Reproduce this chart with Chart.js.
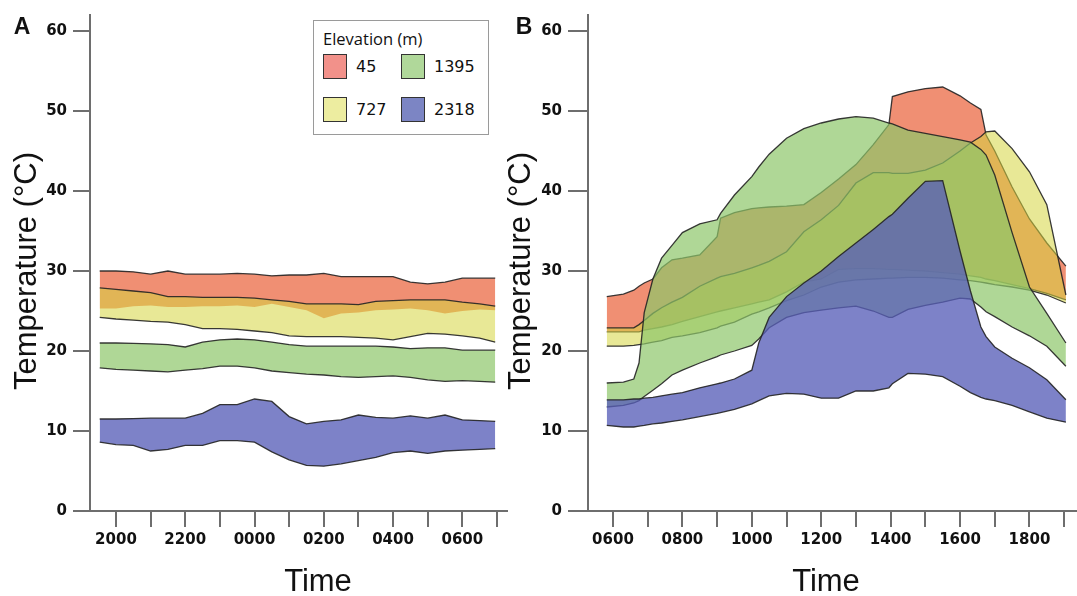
<!DOCTYPE html>
<html>
<head>
<meta charset="utf-8">
<script src="https://cdn.jsdelivr.net/npm/chart.js@4.4.1/dist/chart.umd.min.js"></script>
<style>
	html, body { margin: 0; padding: 0; background: #fff; }
	#wrap { position: relative; width: 1077px; height: 596px; overflow: hidden; font-family: "Liberation Sans", Arial, sans-serif; color: #111; }
	canvas { position: absolute; top: 0; }
	#chartA { left: 0; }
	#chartB { left: 500px; }
	.panel { position: absolute; font-weight: bold; font-size: 23px; line-height: 23px; transform: translate(-50%, -50%); }
	.ytitle { position: absolute; font-size: 31px; line-height: 31px; white-space: nowrap; transform: translate(-50%, -50%) rotate(-90deg); }
	.xtitle { position: absolute; font-size: 31px; line-height: 31px; white-space: nowrap; transform: translate(-50%, -50%); }
	#legend { position: absolute; left: 313px; top: 20px; width: 174px; height: 113px; border: 1px solid #9a9a9a; background: #fff; }
	#legend .title { position: absolute; left: 9px; top: 8px; font-family: "Open Sans", sans-serif; font-size: 16.5px; line-height: 20px; white-space: nowrap; }
	#legend .sw { position: absolute; width: 22px; height: 23px; border: 1px solid #333; }
	#legend .lab { position: absolute; font-family: "DejaVu Sans", sans-serif; font-size: 16px; line-height: 25px; }
</style>
</head>
<body>
<div id="wrap">
	<canvas id="chartA" width="540" height="596"></canvas>
	<canvas id="chartB" width="577" height="596"></canvas>
	<div class="panel" style="left:22px; top:26px;">A</div>
	<div class="panel" style="left:524px; top:26px;">B</div>
	<div class="ytitle" style="left:25px; top:271px;">Temperature (°C)</div>
	<div class="ytitle" style="left:519px; top:271px;">Temperature (°C)</div>
	<div class="xtitle" style="left:318px; top:580px;">Time</div>
	<div class="xtitle" style="left:826px; top:580px;">Time</div>
	<div id="legend"><div class="title">Elevation (m)</div></div>
</div>
<script>
// elevation classes (m)
const elevations = ["45", "727", "1395", "2318"];

// panel A: night, hours after midnight continue past 24
const hoursA = [19.53, 20, 20.5, 21, 21.5, 22, 22.5, 23, 23.5, 24, 24.5, 25, 25.5, 26, 26.5, 27, 27.5, 28, 28.5, 29, 29.5, 30, 30.5, 30.95];
const a45Low = [25.3, 25.3, 25.6, 25.7, 25.5, 25.5, 25.6, 25.6, 25.7, 25.5, 25.9, 25.5, 25.1, 24.1, 24.7, 24.8, 25.1, 25.2, 25.3, 25.1, 24.7, 25.0, 25.2, 25.1];
const a45High = [30.0, 30.0, 29.9, 29.6, 30.0, 29.6, 29.6, 29.6, 29.7, 29.6, 29.4, 29.5, 29.5, 29.7, 29.3, 29.3, 29.3, 29.3, 28.6, 28.4, 28.6, 29.1, 29.1, 29.1];
const a727Low = [24.2, 24.0, 23.85, 23.7, 23.6, 23.3, 22.8, 22.8, 22.7, 22.5, 22.3, 21.9, 21.8, 21.8, 21.8, 21.7, 21.6, 21.4, 21.8, 22.2, 22.1, 21.9, 21.6, 21.1];
const a727High = [27.9, 27.7, 27.5, 27.3, 26.8, 26.8, 26.7, 26.7, 26.7, 26.6, 26.4, 26.2, 25.9, 25.9, 25.9, 25.8, 26.2, 26.3, 26.4, 26.4, 26.4, 26.1, 25.9, 25.6];
const a1395Low = [17.9, 17.7, 17.6, 17.5, 17.4, 17.6, 17.8, 18.1, 18.1, 17.9, 17.5, 17.3, 17.1, 17.0, 16.8, 16.7, 16.8, 16.9, 16.7, 16.4, 16.2, 16.3, 16.2, 16.1];
const a1395High = [21.0, 21.0, 20.95, 20.9, 20.8, 20.5, 21.1, 21.4, 21.5, 21.4, 21.1, 20.8, 20.6, 20.6, 20.6, 20.6, 20.6, 20.5, 20.3, 20.4, 20.4, 20.1, 20.1, 20.1];
const a2318Low = [8.6, 8.3, 8.2, 7.5, 7.7, 8.2, 8.2, 8.8, 8.8, 8.6, 7.4, 6.4, 5.7, 5.6, 5.9, 6.3, 6.7, 7.3, 7.5, 7.2, 7.5, 7.6, 7.7, 7.8];
const a2318High = [11.5, 11.5, 11.55, 11.6, 11.6, 11.6, 12.2, 13.3, 13.3, 14.0, 13.7, 11.8, 10.9, 11.2, 11.4, 12.0, 11.7, 11.6, 11.9, 11.6, 12.0, 11.4, 11.3, 11.2];

// panel B: day
const hoursB = [5.82, 6.3, 6.6, 6.75, 6.9, 7.15, 7.4, 7.7, 8.0, 8.5, 9.0, 9.1, 9.5, 10.0, 10.2, 10.5, 11.0, 11.5, 12.0, 12.5, 13.0, 13.5, 13.95, 14.05, 14.5, 15.0, 15.5, 16.0, 16.3, 16.6, 16.75, 17.0, 17.5, 18.0, 18.5, 19.05];
const b45Low = [22.4, 22.4, 22.4, 22.4, 22.6, 22.8, 23.0, 23.3, 23.7, 24.3, 24.9, 25.0, 25.4, 25.9, 26.1, 26.4, 27.4, 28.6, 29.0, 30.2, 30.3, 30.3, 30.2, 30.2, 30.1, 30.0, 29.8, 29.6, 29.4, 29.2, 29.0, 28.8, 28.3, 27.8, 27.2, 26.4];
const b45High = [26.8, 27.1, 27.6, 28.1, 28.5, 29.0, 30.4, 31.4, 31.6, 32.0, 34.3, 36.6, 37.3, 37.8, 37.9, 38.0, 38.1, 38.3, 39.8, 41.5, 43.3, 45.8, 48.3, 51.8, 52.4, 52.8, 53.0, 51.9, 51.0, 50.2, 47.0, 45.0, 40.5, 36.5, 33.5, 30.6];
const b727Low = [20.6, 20.6, 20.7, 20.8, 20.9, 21.1, 21.3, 21.7, 21.9, 22.3, 22.9, 23.1, 23.6, 24.6, 24.9, 25.4, 26.3, 27.0, 28.0, 28.6, 28.9, 29.0, 29.1, 29.1, 29.2, 29.2, 29.1, 28.9, 28.8, 28.6, 28.5, 28.3, 28.0, 27.6, 27.0, 26.0];
const b727High = [22.9, 22.9, 22.9, 23.3, 23.8, 24.7, 25.4, 26.1, 26.7, 28.1, 29.1, 29.3, 29.7, 30.4, 30.7, 31.2, 32.4, 34.9, 36.4, 38.2, 41.0, 42.3, 42.3, 42.2, 42.2, 42.6, 43.5, 45.0, 46.0, 46.8, 47.4, 47.5, 45.3, 42.4, 38.3, 27.0];
const b1395Low = [13.0, 13.2, 13.5, 13.8, 14.3, 15.1, 15.9, 17.0, 17.6, 18.5, 19.3, 19.5, 20.0, 20.7, 21.5, 22.9, 24.2, 24.8, 25.1, 25.4, 25.6, 25.0, 24.2, 24.2, 25.2, 25.7, 26.1, 26.6, 26.5, 25.5, 24.9, 24.3, 23.0, 21.9, 20.6, 18.1];
const b1395High = [16.0, 16.1, 16.5, 18.5, 24.8, 29.0, 31.6, 33.2, 34.8, 35.9, 36.4, 37.2, 39.5, 41.8, 43.0, 44.6, 46.6, 47.8, 48.5, 49.0, 49.3, 49.1, 48.5, 48.4, 47.6, 47.2, 46.8, 46.4, 46.1, 45.2, 44.5, 42.0, 34.8, 28.0, 24.7, 21.0];
const b2318Low = [10.7, 10.5, 10.5, 10.6, 10.7, 10.9, 11.0, 11.2, 11.4, 11.8, 12.2, 12.3, 12.7, 13.4, 13.8, 14.4, 14.7, 14.6, 14.1, 14.1, 15.0, 15.0, 15.4, 15.9, 17.2, 17.1, 16.8, 15.6, 14.8, 14.2, 14.0, 13.8, 13.2, 12.4, 11.6, 11.1];
const b2318High = [13.9, 13.9, 14.0, 14.0, 14.1, 14.2, 14.4, 14.6, 14.8, 15.4, 15.9, 16.0, 16.5, 17.6, 21.0, 24.2, 26.8, 28.5, 30.0, 31.8, 33.5, 35.2, 36.8, 37.1, 39.1, 41.2, 41.3, 32.5, 27.5, 23.0, 21.8, 20.5, 19.1, 17.9, 16.4, 13.9];

const bandFill = ["rgba(232, 83, 40, 0.65)", "rgba(213, 213, 64, 0.55)", "rgba(141, 198, 105, 0.7)", "rgba(88, 95, 185, 0.78)"];
const swatchColors = ["#F2918A", "#EDEDA0", "#B0D89A", "#7C85C4"];
const edgeColor = "rgba(35, 35, 35, 0.9)";
const axisColor = "#6e6e6e";
const tickFont = { family: "DejaVu Sans", size: 15, weight: "bold" };

function bandSets(hours, lows, highs, hideFirstLow) {
	const sets = [];
	const pts = arr => arr.map((v, i) => ({ x: hours[i], y: v }));
	lows.forEach((low, k) => {
		const order = lows.length - k; // 45 m at the bottom, 2318 m on top
		sets.push({
			label: elevations[k] + " min",
			data: pts(low),
			borderColor: edgeColor,
			borderWidth: (hideFirstLow && k === 0) ? 0 : 1.3,
			fill: false,
			order: order
		});
		sets.push({
			label: elevations[k],
			data: pts(highs[k]),
			borderColor: edgeColor,
			borderWidth: 1.3,
			backgroundColor: bandFill[k],
			fill: sets.length - 1,
			order: order
		});
	});
	return sets;
}

function hourLabel(v) {
	if (!Number.isInteger(v) || v % 2 !== 0) return "";
	return String((v % 24) * 100).padStart(4, "0");
}

function panelOptions(xMin, xMax, yWidth, yTick, rightPad) {
	return {
		responsive: false,
		animation: false,
		layout: { autoPadding: false, padding: { top: 12, right: rightPad, left: 0, bottom: 0 } },
		plugins: { legend: { display: false }, tooltip: { enabled: false } },
		elements: { point: { radius: 0 }, line: { tension: 0 } },
		scales: {
			x: {
				type: "linear",
				min: xMin,
				max: xMax,
				afterFit: s => { s.height = 85; },
				border: { display: true, color: axisColor, width: 2 },
				grid: { drawOnChartArea: false, tickLength: 16, color: axisColor, lineWidth: 2 },
				ticks: {
					stepSize: 1,
					includeBounds: false,
					autoSkip: false,
					maxRotation: 0,
					padding: 4,
					color: "#111",
					font: tickFont,
					callback: hourLabel
				}
			},
			y: {
				min: 0,
				max: 62,
				afterFit: s => { s.width = yWidth; },
				border: { display: true, color: axisColor, width: 2 },
				grid: { drawOnChartArea: false, tickLength: yTick, color: axisColor, lineWidth: 2 },
				ticks: {
					stepSize: 10,
					includeBounds: false,
					padding: 6,
					color: "#111",
					font: tickFont
				}
			}
		}
	};
}

const chartA = new Chart(document.getElementById("chartA").getContext("2d"), {
	type: "line",
	data: {
		datasets: bandSets(hoursA,
			[a45Low, a727Low, a1395Low, a2318Low],
			[a45High, a727High, a1395High, a2318High], true)
	},
	options: panelOptions(19.25, 31.29, 90, 17, 33)
});

const chartB = new Chart(document.getElementById("chartB").getContext("2d"), {
	type: "line",
	data: {
		datasets: bandSets(hoursB,
			[b45Low, b727Low, b1395Low, b2318Low],
			[b45High, b727High, b1395High, b2318High], false)
	},
	options: panelOptions(5.28, 19.37, 88, 20, 0)
});

// legend: two columns, 45/727 left and 1395/2318 right
const legend = document.getElementById("legend");
elevations.forEach((name, i) => {
	const col = Math.floor(i / 2), row = i % 2;
	const sw = document.createElement("div");
	sw.className = "sw";
	sw.style.left = (9 + col * 78) + "px";
	sw.style.top = (33 + row * 43) + "px";
	sw.style.background = swatchColors[i];
	legend.appendChild(sw);
	const lab = document.createElement("div");
	lab.className = "lab";
	lab.style.left = (42 + col * 78) + "px";
	lab.style.top = (33 + row * 43) + "px";
	lab.textContent = name;
	legend.appendChild(lab);
});
</script>
</body>
</html>
